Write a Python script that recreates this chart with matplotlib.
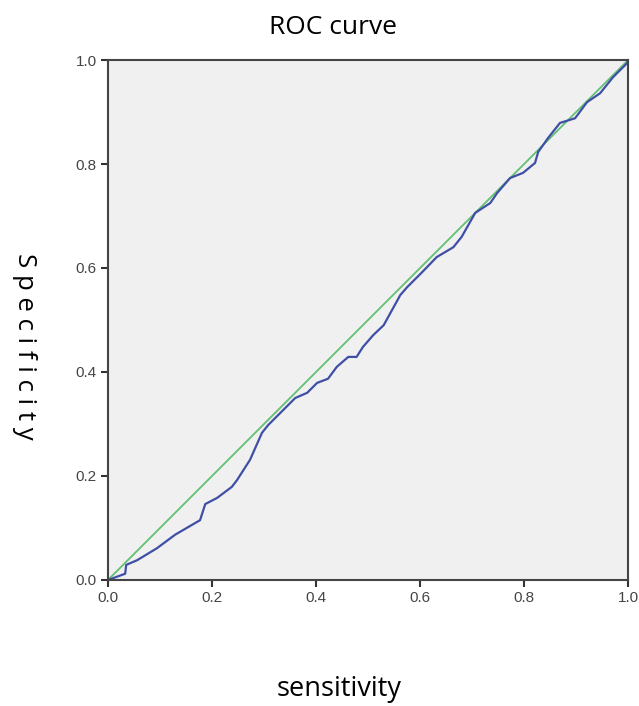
import matplotlib
matplotlib.use("Agg")
import matplotlib.pyplot as plt

# curva ROC
fpr = [0.0, 0.033, 0.035, 0.056, 0.094, 0.129, 0.177, 0.187, 0.21, 0.238, 0.248,
       0.273, 0.296, 0.308, 0.331, 0.36, 0.383, 0.402, 0.423, 0.44, 0.462, 0.478,
       0.49, 0.51, 0.53, 0.562, 0.575, 0.604, 0.632, 0.664, 0.68, 0.706, 0.735,
       0.748, 0.773, 0.798, 0.821, 0.827, 0.846, 0.869, 0.898, 0.921, 0.946,
       0.971, 0.998, 1.0]
tpr = [0.0, 0.012, 0.029, 0.038, 0.061, 0.087, 0.115, 0.146, 0.158, 0.179, 0.192,
       0.231, 0.283, 0.298, 0.321, 0.35, 0.36, 0.379, 0.387, 0.41, 0.429, 0.429,
       0.448, 0.471, 0.49, 0.548, 0.563, 0.592, 0.621, 0.64, 0.66, 0.706, 0.725,
       0.744, 0.773, 0.783, 0.802, 0.823, 0.85, 0.879, 0.888, 0.919, 0.936,
       0.967, 0.994, 1.0]
ref = [0.0, 1.0]
ticks = [0.0, 0.2, 0.4, 0.6, 0.8, 1.0]

fig = plt.figure(figsize=(6.39, 7.06), dpi=100)
ax = fig.add_axes([0.169, 0.1785, 0.814, 0.7365])
ax.set_facecolor("#f0f0f0")

ax.plot(ref, ref, color="#62c072", lw=1.3)
ax.plot(fpr, tpr, color="#3f4fa6", lw=1.6)

ax.set_xlim(0, 1)
ax.set_ylim(0, 1)
ax.set_xticks(ticks)
ax.set_yticks(ticks)
ax.set_xticklabels([f"{t:.1f}" for t in ticks], family="Liberation Sans")
ax.set_yticklabels([f"{t:.1f}" for t in ticks], family="Liberation Sans")
ax.tick_params(direction="out", length=5, width=1.5, color="#333333",
               labelsize=11, labelcolor="#444444", pad=3)
for s in ax.spines.values():
    s.set_color("#444444")
    s.set_linewidth(1.5)

fig.text(333 / 639, 1 - 28 / 706, "ROC curve", ha="center", va="center",
         fontsize=19, family="Open Sans")
fig.text(339 / 639, 1 - 689 / 706, "sensitivity", ha="center", va="center",
         fontsize=19.5, family="Open Sans")
fig.text(24 / 639, 1 - 346 / 706, "S p e c i f i c i t y", ha="center", va="center",
         rotation=-90, fontsize=18.5, family="Open Sans")

fig.savefig("out.png", dpi=100)
